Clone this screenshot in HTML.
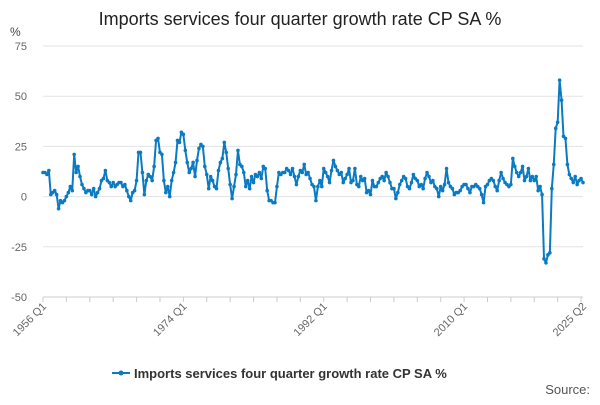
<!DOCTYPE html>
<html><head><meta charset="utf-8"><style>
body{margin:0;background:#fff;font-family:"Liberation Sans",sans-serif}
svg text{font-family:"Liberation Sans",sans-serif}
</style></head><body>
<svg id="chart" width="600" height="400" viewBox="0 0 600 400" xmlns="http://www.w3.org/2000/svg">
<text x="300" y="25" text-anchor="middle" font-size="18" fill="#222">Imports services four quarter growth rate CP SA %</text>
<text x="10" y="36" font-size="12" fill="#444">%</text>
<g id="grid"></g><g id="yt"></g><g id="xt"></g><g id="series"></g>
<g>
<line x1="112" y1="373" x2="130" y2="373" stroke="#0a7bc2" stroke-width="2"/>
<circle cx="121" cy="373" r="2.5" fill="#0a7bc2"/>
<text x="134" y="378" font-size="13" font-weight="bold" fill="#333">Imports services four quarter growth rate CP SA %</text>
</g>
<text x="590" y="394" text-anchor="end" font-size="13" fill="#555">Source:</text>
</svg>
<script>
const startYear=1956;
const values=[
12,12,11,13, 1,2,3,1, -6,-2,-3,-2, 0,2,5,3, 21,12,15,10, 6,4,2,3, 3,1,4,0, 2,4,8,9,
13,8,7,5, 7,5,6,7, 7,5,6,3, 0,-2,2,3, 8,22,22,12, 1,8,11,10, 8,15,28,29, 22,21,8,2,
5,0,8,12, 17,28,27,32, 31,23,17,12, 14,17,10,18, 24,26,25,15, 11,4,10,8, 5,4,13,17,
19,27,22,14, 6,-1,5,11, 23,16,15,12, 5,8,4,10, 7,11,10,12, 9,15,14,3, -2,-2,-3,-3,
5,12,11,12, 12,14,13,11, 14,10,6,10, 13,12,16,11, 12,9,6,5, -2,5,8,5, 14,12,10,7,
13,18,15,13, 11,12,7,9, 11,14,7,8, 14,6,5,10, 8,9,2,3, 1,8,5,5, 7,9,10,8, 12,10,7,4,
4,-1,2,6, 8,10,9,5, 4,7,11,9, 8,5,6,4, 9,12,10,7, 8,5,4,0, 5,3,6,14,
7,5,4,1, 2,2,3,5, 6,6,4,2, 5,5,6,5, 4,1,-3,5, 6,8,9,8, 5,3,8,12, 9,7,6,5,
6,19,15,12, 10,12,15,8, 10,14,8,10, 8,10,3,5, 1,
-31,-33,-29,-28, 4,16,34, 37,58,48,30, 29,16,11,9, 7,10,6,8, 9,7];
const yTicks=[75,50,25,0,-25,-50];
const xLabels=["1956 Q1","1974 Q1","1992 Q1","2010 Q1","2025 Q2"];
const xLabelIdx=[0,72,144,216,277];
const X0=43,X1=583,Y0=46,Y1=297;
const n=values.length;
const sx=i=>X0+(X1-X0)*i/(n-1);
const sy=v=>Y0+(75-v)*(Y1-Y0)/125;
const NS="http://www.w3.org/2000/svg";
function mk(t,a,p){const e=document.createElementNS(NS,t);for(const k in a)e.setAttribute(k,a[k]);p.appendChild(e);return e;}
const grid=document.getElementById('grid'),yt=document.getElementById('yt'),xt=document.getElementById('xt'),sg=document.getElementById('series');
yTicks.forEach(v=>{
 const l=mk('line',{x1:X0,x2:X1,y1:sy(v),y2:sy(v),stroke:v===-50?'#ccc':'#e3e3e3','stroke-width':1},grid);
 
 
 const t=mk('text',{x:27,y:sy(v)+4,'text-anchor':'end','font-size':11,fill:'#666'},yt);
 t.textContent=v;
 
 
});
for(let y=0;y<=69;y+=3){const x=sx(y*4);const tk=mk('line',{x1:x,x2:x,y1:Y1,y2:Y1+5,stroke:'#ccc'},xt);
 
 }
xLabels.forEach((s,k)=>{const x=sx(xLabelIdx[k]);
 const t=mk('text',{x:x+4,y:Y1+10,'text-anchor':'end','font-size':11,fill:'#666',transform:`rotate(-45 ${x+4} ${Y1+10})`},xt);
 t.textContent=s;
 
 });
const p=mk('polyline',{points:values.map((v,i)=>sx(i)+','+sy(v)).join(' '),fill:'none',stroke:'#0a7bc2','stroke-width':2,'stroke-linejoin':'round'},sg);


values.forEach((v,i)=>{const c=mk('circle',{cx:sx(i),cy:sy(v),r:1.8,fill:'#0a7bc2'},sg);
 
 });
</script>
</body></html>
